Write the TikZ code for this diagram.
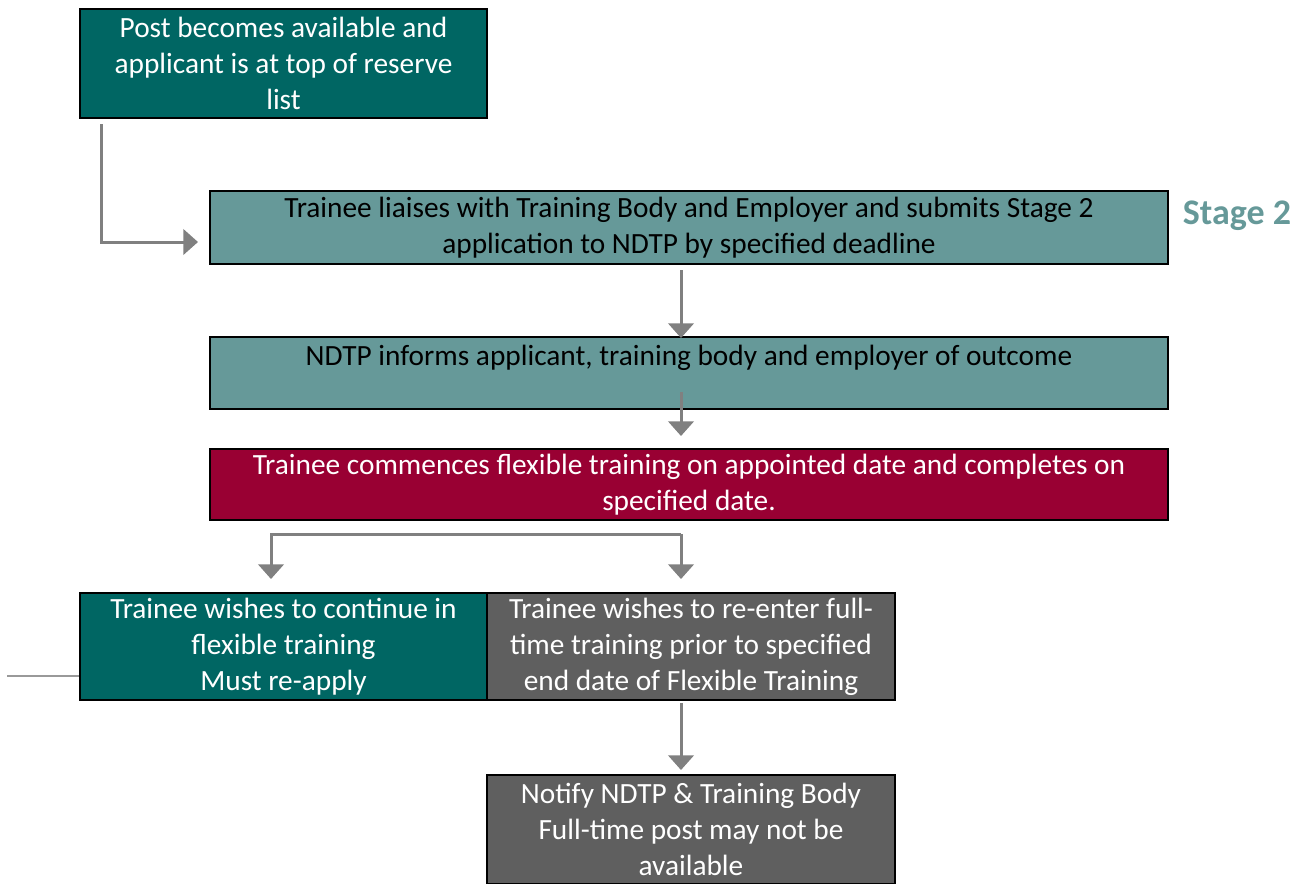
\documentclass[tikz,border=0pt]{standalone}
\usepackage{fontspec}
\setmainfont{Carlito}
\usepackage{xcolor}
\usepackage{tikz}
\usetikzlibrary{calc, positioning, arrows.meta}
\definecolor{tealDark}{RGB}{0,102,99}
\definecolor{tealLight}{RGB}{102,153,153}
\definecolor{wine}{RGB}{153,0,51}
\definecolor{greyBox}{RGB}{95,95,95}
\definecolor{connGrey}{RGB}{128,128,128}
\tikzset{
    stepbox/.style={rectangle, draw=black, line width=1.5pt, align=center, anchor=north west, inner sep=2pt, font=\fontsize{22}{27}\selectfont},
    darkbox/.style={stepbox, fill=tealDark, text=white},
    lightbox/.style={stepbox, fill=tealLight, text=black},
    redbox/.style={stepbox, fill=wine, text=white},
    greybox/.style={stepbox, fill=greyBox, text=white},
    arrow/.style={-{Triangle[width=19pt, length=11pt]}, line width=2.25pt, draw=connGrey},
    thinline/.style={line width=1pt, draw=connGrey!80},
    stageLabel/.style={font=\fontsize{27}{32}\selectfont\bfseries, text=tealLight}
}

\begin{document}
\begin{tikzpicture}[x=0.75pt, y=-0.75pt]
    \useasboundingbox (0,0) rectangle (1306,883);

    % Boxes
    \node[darkbox, minimum width=305.25pt, minimum height=81.75pt] (post) at (79,8)
        {Post becomes available and\\applicant is at top of reserve\\list};
    \node[lightbox, minimum width=718.5pt, minimum height=54.75pt] (liaise) at (209,190)
        {Trainee liaises with Training Body and Employer and submits Stage 2\\application to NDTP by specified deadline};
    \node[lightbox, minimum width=718.5pt, minimum height=54pt] (inform) at (209,336)
        {NDTP informs applicant, training body and employer of outcome\\\mbox{}};
    \node[redbox, minimum width=718.5pt, minimum height=53.25pt] (commence) at (209,448)
        {Trainee commences flexible training on appointed date and completes on\\specified date.};
    \node[darkbox, minimum width=305.25pt, minimum height=80.25pt] (stay) at (79,592)
        {Trainee wishes to continue in\\flexible training\\Must re-apply};
    \node[greybox, minimum width=306pt, minimum height=80.25pt] (reenter) at (486,592)
        {Trainee wishes to re-enter full-\\time training prior to specified\\end date of Flexible Training};
    \node[greybox, minimum width=306pt, minimum height=81.75pt] (notify) at (486,774)
        {Notify NDTP \& Training Body\\Full-time post may not be\\available};

    % Stage label
    \node[stageLabel] (stage) at (1237,216) {Stage 2};

    % Connectors
    \draw[arrow] ($(post.south west)+(22,5)$) |- ($(liaise.west)+(-11,14.5)$);
    \draw[arrow] ($(liaise.south)+(-8,5)$) -- ($(inform.north)+(-8,2)$);
    \draw[arrow] ($(inform.south)+(-8,-18)$) -- ($(commence.north)+(-8,-12)$);
    \coordinate (split) at ($(commence.south)+(-8,13)$);
    \draw[arrow] (split) -| ($(stay.north)+(-12.5,-13)$);
    \draw[arrow] (split) -- ($(reenter.north)+(-10,-13)$);
    \draw[arrow] ($(reenter.south)+(-10,2)$) -- ($(notify.north)+(-10,-4)$);

    % Loose line
    \coordinate (loose) at (7,676);
    \draw[thinline] (loose) -- (stay.west |- loose);
\end{tikzpicture}
\end{document}
